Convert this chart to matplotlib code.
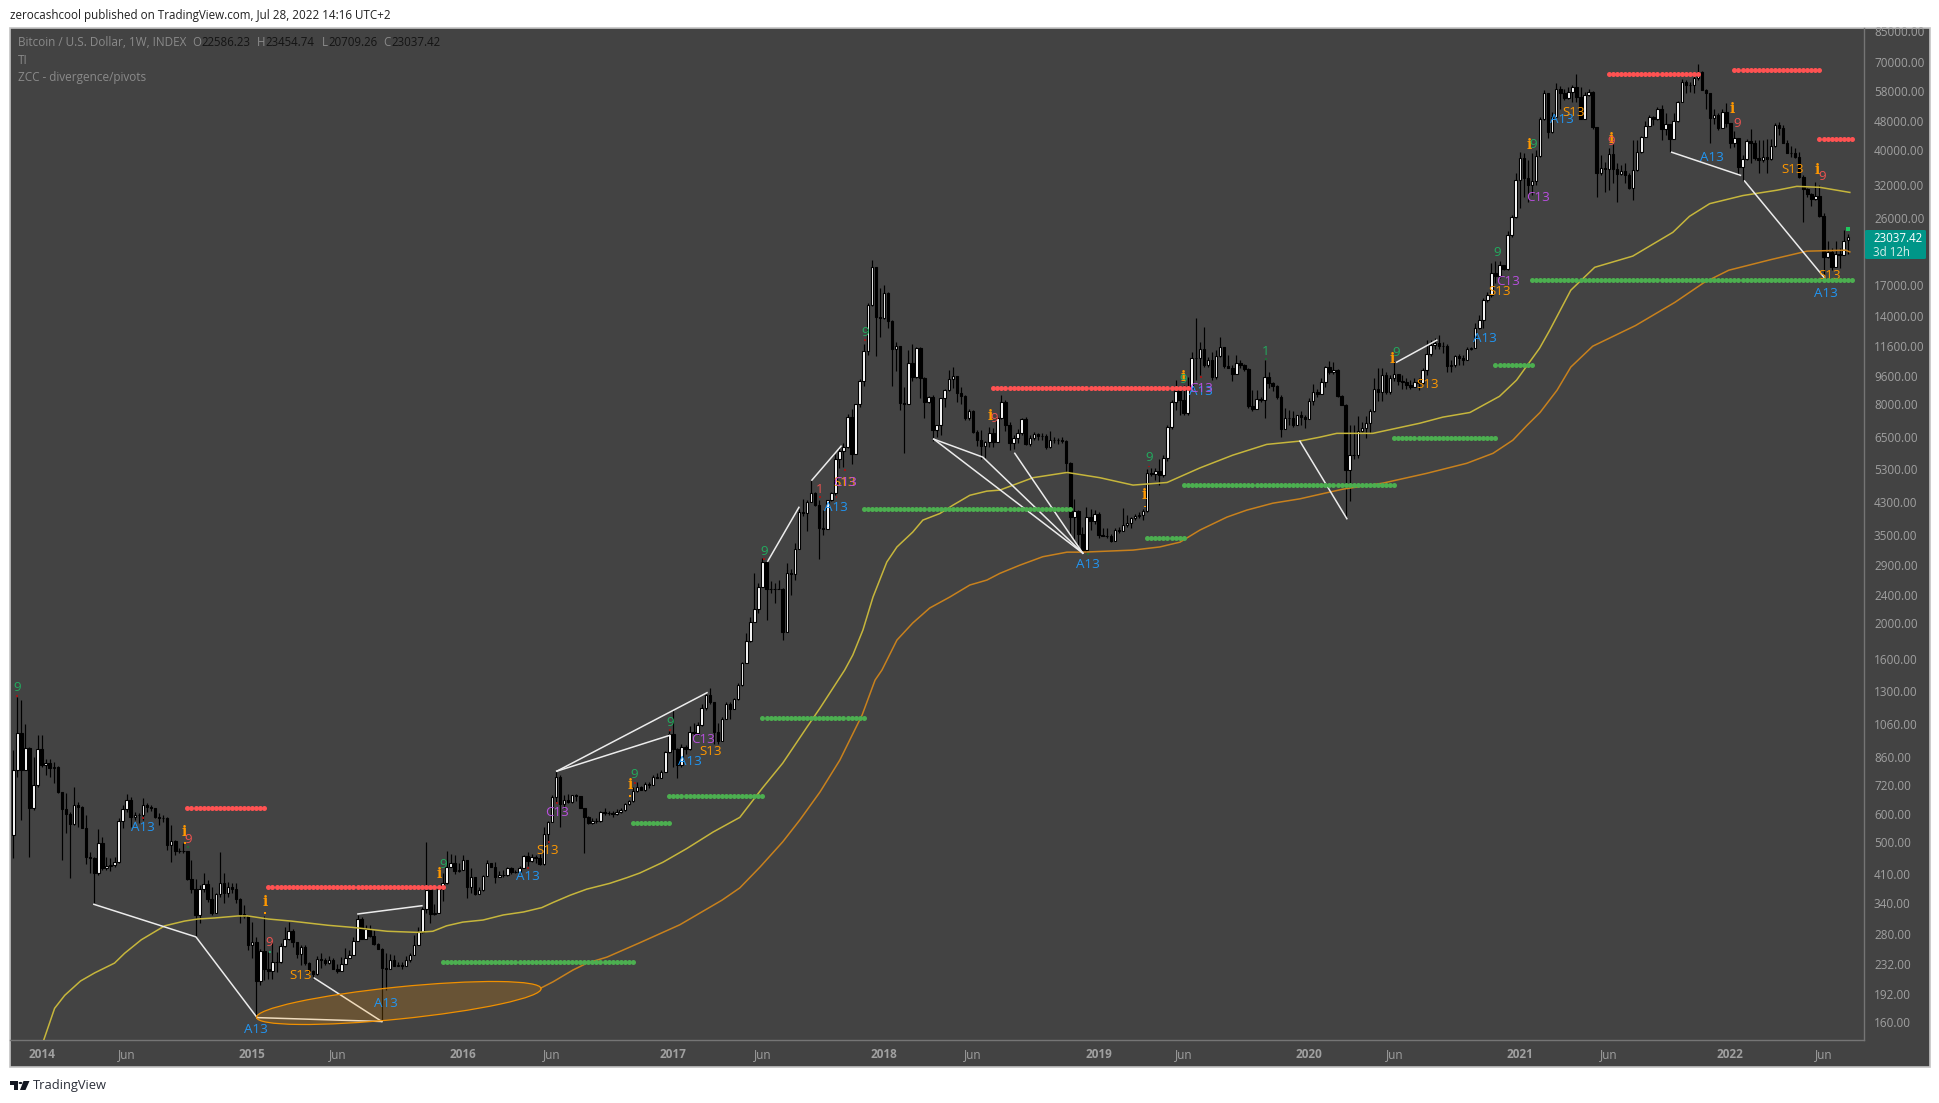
import matplotlib
matplotlib.use('Agg')
import matplotlib.pyplot as plt
from matplotlib.patches import Ellipse, Polygon, Rectangle, FancyBboxPatch, Circle
from matplotlib.transforms import IdentityTransform
import numpy as np

plt.rcParams['font.family'] = ['Open Sans', 'DejaVu Sans']

# weekly candles (open = previous close)
first_open = 525
closes = [
    791,997,791,910,623,720,902,816,829,803,
    805,690,619,598,561,632,627,549,457,453,
    413,497,426,432,433,443,571,619,653,589,
    596,594,632,625,621,586,583,585,493,505,
    474,473,474,396,373,316,373,385,350,320,
    360,388,364,377,373,350,318,314,261,266,
    208,252,225,222,234,234,260,272,285,266,
    247,258,233,222,218,239,238,233,238,225,
    221,232,241,246,268,308,272,290,277,263,
    255,226,225,238,229,230,229,238,246,262,
    283,328,370,317,320,372,388,428,438,418,
    421,447,378,401,360,369,405,438,428,401,
    408,407,424,416,416,424,460,446,455,454,
    436,527,570,665,758,636,655,644,673,672,
    620,589,565,574,573,605,603,603,598,608,
    614,637,650,694,708,699,723,720,758,752,
    782,886,992,905,817,915,905,1007,998,1052,
    1168,1270,1215,1007,953,1095,1199,1164,1237,1353,
    1552,1784,2013,2190,2516,2948,2490,2480,2490,2490,
    1900,2750,2738,3200,4040,4030,4310,4570,4220,3660,
    3645,4355,4570,5660,5950,6100,7380,5830,8000,9260,
    11190,15000,19040,13940,13790,16180,13570,11360,11560,8060,
    8020,10370,9520,11430,9460,8110,8390,6810,7000,8310,
    8760,9370,9550,8620,8450,7320,7650,6730,6400,6140,
    6310,6660,6310,7360,8140,7010,6280,6470,6660,7280,
    6220,6470,6620,6540,6530,6100,6380,6380,6370,6330,
    5530,3910,4080,3520,3180,3920,3820,4010,3500,3480,
    3480,3380,3620,3590,3720,3770,3890,3950,3960,4070,
    5170,5150,5250,5110,5690,6950,8140,8690,8220,7590,
    8900,10750,10710,11360,10240,10570,9490,10900,11490,10220,
    10080,9710,10380,10260,9990,7940,7770,8280,8210,9490,
    9140,8960,8390,6850,7360,7340,7040,7470,7400,7300,
    8170,8650,8530,9240,10130,9840,9920,8430,7960,5290,
    5800,5790,6740,6870,7100,7690,8830,8670,9660,8670,
    9440,9700,9300,9240,9050,8950,9240,9160,9920,11000,
    11640,11830,11600,11600,10200,10240,10840,10710,10570,11340,
    11430,12950,13640,15490,15950,18330,17990,19330,18900,23380,
    26130,33030,37970,33460,32070,32950,38620,48610,57290,44950,
    49470,58760,57290,55510,57900,59760,56100,48810,56690,57900,
    46200,34530,35650,35570,39020,35420,34390,35040,34170,31400,
    35350,39610,43550,46690,49220,48610,51780,45710,47090,43000,
    48090,54350,61430,60400,60400,63000,65440,58510,57290,49120,
    49950,46100,50800,47380,41750,43080,36020,37730,42370,41930,
    38130,37570,38210,37730,41130,46790,46100,41930,39360,39190,
    38370,33810,31190,30230,29290,29920,26420,20370,20930,19130,
    20760,20630,22450,23037.42,
]
highs = [
    898,1258,1235,1059,917,861,988,988,847,847,
    834,812,690,683,608,712,647,629,595,472,
    457,543,519,457,452,457,582,634,678,668,
    608,604,661,640,632,623,601,595,588,558,
    509,482,497,475,448,396,382,411,394,378,
    362,472,411,390,386,386,351,336,316,303,
    275,255,314,250,267,250,264,292,302,290,
    267,261,261,235,223,243,248,241,243,240,
    231,242,257,253,274,316,311,296,296,288,
    264,257,248,247,245,235,235,243,248,278,
    293,333,503,381,339,374,411,473,464,461,
    438,461,448,424,401,378,407,448,438,442,
    418,420,428,428,421,432,461,470,464,461,
    466,552,573,673,786,766,676,679,676,679,
    662,622,591,583,584,610,622,610,610,617,
    620,640,654,709,732,716,735,735,765,775,
    790,892,1010,1157,911,935,925,1042,1062,1073,
    1204,1283,1325,1215,1062,1104,1215,1215,1245,1370,
    1568,1881,2080,2750,2580,3020,2990,2610,2580,2630,
    2500,2940,2830,3320,4130,4400,4360,4970,4600,4360,
    4090,4370,4590,5830,6120,6270,7510,7780,8030,9420,
    11700,15180,19910,19125,16700,17000,16250,13630,11850,11560,
    8950,11290,11710,11500,11500,9520,8450,8510,7030,8340,
    8800,9960,10120,9570,8930,8490,7770,7710,6810,6810,
    6360,6950,6870,7480,8490,8220,7170,6590,6850,7320,
    7400,6590,6730,6690,6660,6620,6770,6500,6470,6500,
    6380,5540,4400,4090,3680,4170,4130,4090,4050,3650,
    3650,3520,3670,3680,4150,3970,3930,4010,4050,4130,
    5300,5340,5340,5650,5800,7010,8220,9340,8960,9040,
    9530,11170,13790,11880,13050,10800,11170,11280,12290,11520,
    10920,10260,10920,10590,10300,10040,8760,8790,8390,10590,
    9830,9240,9040,8490,7800,7720,7650,7470,7650,7490,
    8310,9130,8830,9440,10200,10510,10430,9990,8480,8010,
    7020,7020,7410,7160,7440,7760,9440,10090,10090,9840,
    9660,10510,9700,9660,9440,9350,9440,9440,10090,12020,
    12020,12170,12420,11880,11760,10620,10950,11000,10950,11520,
    11520,13360,14060,15650,16320,19540,19810,19810,19330,23980,
    26520,34530,39610,39190,37570,39360,40040,49470,58350,57560,
    51020,61310,59990,59020,59760,60400,64750,59760,57900,59020,
    58150,46200,38890,37180,40460,41450,36780,36380,36780,34530,
    42640,42640,43740,48140,49950,49580,52630,53240,50470,47210,
    50470,54690,62720,62330,61700,65710,68970,66130,59020,57290,
    52010,50470,52010,53820,47380,45250,43000,38890,43000,45670,
    42640,42640,42640,42890,43000,47380,47910,46870,42640,41050,
    40460,39610,34170,31400,30430,32750,32070,26900,22450,21560,
    22450,21560,24190,23454.74,
]
lows = [
    452,758,576,800,455,614,712,808,766,758,
    727,683,448,530,399,558,553,548,435,413,
    340,407,420,420,418,429,440,548,608,553,
    576,564,576,608,610,583,558,570,477,443,
    462,469,467,394,362,274,300,366,344,316,
    319,355,340,355,362,340,300,310,253,241,
    166,203,209,211,211,220,233,258,270,258,
    241,230,230,218,211,216,226,230,231,226,
    219,224,231,240,245,268,271,271,275,261,
    254,161,196,228,230,230,224,231,235,245,
    261,282,319,300,316,320,346,385,428,410,
    416,421,351,363,359,362,368,404,427,387,
    403,403,405,410,411,417,424,431,442,440,
    433,433,498,570,640,551,622,640,640,652,
    620,468,561,561,565,568,594,596,589,596,
    602,610,633,646,687,696,694,705,718,750,
    762,780,880,808,751,808,877,895,986,986,
    1042,1157,1204,935,935,948,1090,1095,1162,1230,
    1345,1557,1773,2013,2130,2516,2050,2420,2280,2480,
    1800,1900,2400,2630,3200,3935,3600,4310,4210,3010,
    3500,3630,4350,4500,5340,5370,6080,5480,5830,7850,
    9000,10950,14900,10850,12240,13700,12960,9000,9900,7710,
    5880,8020,9260,9460,8310,7330,8050,6340,6520,6590,
    7850,8700,8860,8110,8020,7230,7260,6660,6140,5660,
    5700,6100,6100,6310,7300,6770,5990,6050,6250,6590,
    6180,6150,6380,6380,6380,6030,6080,6250,6220,6250,
    5200,3470,3380,3290,3150,3150,3610,3750,3440,3470,
    3440,3350,3380,3550,3590,3680,3670,3840,3890,3840,
    4050,5080,4950,4800,5060,5590,6850,7710,7470,7470,
    7470,8860,9340,9640,10150,10150,9340,9370,10800,10040,
    10040,9280,9700,10080,9900,7800,7670,7760,8140,7320,
    8900,8690,8300,6520,6850,7010,6950,7020,7020,6870,
    7290,7960,8390,8560,8950,9710,9700,8360,7960,3900,
    4350,5660,5680,6710,6450,6680,7610,8170,8170,8560,
    8560,9300,9050,8830,8830,8830,8950,8770,9130,9660,
    10840,11340,11340,11050,9840,9840,10150,10250,10250,10570,
    11260,11400,12900,12950,15310,15800,17220,17810,18710,18710,
    23120,26000,27680,29790,28810,30100,32070,38370,48300,43080,
    44640,49220,52010,54990,55200,54350,54350,48610,48610,56290,
    45710,29660,34170,30750,31070,32410,28810,34170,32410,31190,
    29170,35130,39360,43550,46770,46880,48300,42640,43940,39610,
    42850,47910,54350,57290,57900,57290,62330,58350,52010,41750,
    47210,45410,46100,46400,40460,40810,34170,32950,37570,36780,
    37570,34530,37180,34530,37570,40880,43940,41750,39190,38370,
    37970,33460,25400,29790,28070,29170,26270,17920,20170,18760,
    19130,18930,20540,20709.26,
]

# moving averages (week index, price)
yellow_i = [7.5,10.2,12.7,16.6,20.1,25,27.5,31.6,37.4,42.3,45.6,49.7,55.5,57.9,62.9,68.6,77.7,83.9,92.3,99.7,
            103.6,107,111,116,121,126,130.5,133.3,137.5,141.6,147.3,151.5,154.7,160.4,166.3,172.8,179.4,185,190,196,
            199.2,205.3,207.3,209.8,212.3,215.7,218.2,222.1,224.6,228.8,232,236.2,240.4,243.6,251.8,260.2,268.3,276.5,284.9,293,
            301.1,309.5,317.6,322.6,326.8,335.7,347.3,353,359.7,367,371.2,376.9,379.4,384.6,390.5,399.9,409.8,413.9,418.9,427.1,
            435.5,440.4,446.1,453.5]
yellow_p = [143,175,190,208,219,233,248,270,295,304,308,310,314,314,308,304,296,292,285,283,
            285,295,302,306,316,322,331,342,358,372,386,400,412,441,481,534,586,706,826,1038,
            1170,1489,1637,1918,2365,2950,3245,3565,3846,4010,4225,4500,4620,4650,5030,5200,5030,4800,4880,5350,
            5800,6210,6340,6500,6660,6660,7100,7380,7600,8420,9325,11420,12795,16480,19050,20450,23770,26300,28500,30000,
            31030,31800,31600,30600]
orange_i = [130.3,133.3,138.2,141.7,146.6,154.7,164.6,175,179.4,184.4,190,194.2,199.2,204.1,209.6,212.8,214.5,218.2,222.1,226.3,
            231.3,236.2,240.4,243.6,248.5,254.2,260.2,264.1,276.5,283.1,288.1,293,299.7,304.6,311,317.7,322.7,328.4,338.2,349,
            358.9,365.4,370.3,373.8,377,381.2,384.6,390,400.6,410.3,417.5,423.6,434,442.9,452.5,453.5]
orange_p = [199,207,223,233,242,265,297,347,375,428,502,576,688,842,1120,1397,1489,1800,2005,2205,
            2365,2550,2631,2745,2890,3050,3140,3140,3181,3245,3345,3610,3920,4097,4280,4400,4530,4680,4860,5170,
            5510,5870,6380,7010,7600,8750,10130,11560,13180,15260,17300,18700,20000,21100,21230,21000]

# hand drawn white lines
white_lines = [
    ([19.9,45.1,60.2],[338,275,165]),
    ([60.2,91],[165,161]),
    ([74.3,91],[212,161]),
    ([85.1,100.9],[318,335]),
    ([134.2,171.3],[785,1290]),
    ([134.2,162.1],[785,985]),
    ([186.3,194],[2965,4170]),
    ([197.2,204.4],[4953,6140]),
    ([227.3,264.1],[6420,3120]),
    ([227.3,239.4,264.1],[6420,5730,3120]),
    ([247.3,264.1],[5870,3120]),
    ([317.7,329.3],[6340,3880]),
    ([341.6,351.5],[10450,12010]),
    ([409.5,426.5],[39460,34100]),
    ([427.5,447.3],[32900,17780]),
]

# pivot levels: start week, end week, price
red_start = [43,63,242,394,425,446]
red_end = [62,106,290,416,446,454]
red_price = [621,377,8860,64630,66300,42850]
green_start = [106,153,162,185,210,280,289,341,366,375]
green_end = [153,162,185,210,261,289,341,366,375,454]
green_price = [235,566,671,1098,4120,3440,4800,6460,10250,17556]

# signal labels
label_text = ['9','A13','i','9','i','9','S13','A13','A13','i','9','A13','S13','C13','i','9','9','A13','C13','S13',
              '9','1','S13','C13','A13','9','i','9','A13','i','9','i','9','A13','C13','1','i','9','S13','A13',
              'S13','C13','9','C13','i','9','A13','S13','i','9','i','9','A13','S13','i','9','S13','A13']
label_i = [1,32,42.1,43.1,62.1,63.1,71,59.9,92,105.1,106.1,127.1,132,134.3,152.3,153.3,162.1,167.1,170.3,172.1,
           185.4,199.2,205.4,205.4,203.1,210.3,241.2,242.2,265.4,279.2,280.4,289,289,293.3,293.3,309.3,340.4,341.4,349.3,363.4,
           367.1,369,366.5,376.5,374.3,375.3,382.4,385.4,394.5,394.5,424.4,425.6,419.4,439.4,445.4,446.6,448.6,447.6]
label_price = [1337,548,534,510,342,265,216,152.6,180,409,436,402,474,606,719,771,1071,837,962,890,
               3160,4680,4890,4890,4170,12630,7420,7330,2912,4505,5729,9505,9385,8700,8860,11200,10650,11130,9090,12160,
               16380,17440,20960,29700,41250,41510,48650,50700,42850,42320,51800,47400,38200,35430,35215,33950,18120,16150]
label_color = ['g','b','o','r','o','r','o','b','b','o','g','b','o','p','o','g','g','b','p','o',
               'g','r','o','p','b','g','o','r','b','o','g','o','g','b','p','g','o','g','o','b',
               'o','p','g','p','o','g','b','o','o','r','o','r','b','o','o','r','o','b']
palette = {'g': '#22ab5e', 'b': '#2196f3', 'o': '#ff9800', 'r': '#ef5350', 'p': '#ba4fe0'}

# tiny marks next to the labels
tick_i = [1,32,42.4,43.1,62.1,63.4,162.1,153.5,152.3,134.3,132.3,127.1,185.4,199.2,203.3,205.4,210.3,265.4,280.4,279.4,293.3,309.3]
tick_p = [1262,583,498,486,320,250,1018,727,671,642,502,425,3005,4450,4450,5277,12010,3100,5400,4190,9505,10650]
tick_c = ['#a01818','#a01818','#ff9800','#1f6b35','#ff9800','#2a9d6a','#a01818','#a01818','#ff9800','#a01818','#a01818',
          '#a01818','#a01818','#a01818','#a01818','#a01818','#a01818','#1f6b35','#a01818','#ff9800','#a01818','#1f6b35']

# axis labels
ytick_vals = [85000,70000,58000,48000,40000,32000,26000,17000,14000,11600,9600,8000,6500,5300,4300,3500,2900,2400,
              2000,1600,1300,1060,860,720,600,500,410,340,280,232,192,160]
xtick_pos = [7,28,59,80,111,133,163,185,215,237,268,289,320,341,372,394,424,447]
xtick_labels = ['2014','Jun','2015','Jun','2016','Jun','2017','Jun','2018','Jun','2019','Jun','2020','Jun','2021','Jun','2022','Jun']

bg = '#434343'
W, H = 1940, 1103

fig = plt.figure(figsize=(W/100, H/100), dpi=100, facecolor='white')

def fx(x):
    return x/W

def fy(y):
    return 1 - y/H

# chart panel
fig.add_artist(Rectangle((fx(10), fy(1066.5)), 1920/W, 1039/H, transform=fig.transFigure,
                         facecolor=bg, edgecolor='#c4c4c4', lw=1.2, zorder=-1))

ax = fig.add_axes([fx(10.5), fy(1040), 1853.5/W, 1012/H])
ax.patch.set_alpha(0)
ax.set_yscale('log')
ax.set_xlim(-0.69, 457)
ax.set_ylim(143.2, 86630)

idx = np.arange(len(closes))
closes_a = np.array(closes, dtype=float)
opens_a = np.r_[first_open, closes_a[:-1]]
opens_a[-1] = 22586.23
body_lo = np.minimum(opens_a, closes_a)
body_hi = np.maximum(opens_a, closes_a)
up = closes_a >= opens_a

# candles
ax.vlines(idx, lows, highs, color='black', lw=0.85, zorder=3)
ax.bar(idx[up], (body_hi - body_lo)[up], bottom=body_lo[up], width=0.62,
       facecolor='white', edgecolor='black', lw=0.8, zorder=3.2)
ax.bar(idx[~up], (body_hi - body_lo)[~up], bottom=body_lo[~up], width=0.62,
       facecolor='black', edgecolor='black', lw=0.8, zorder=3.2)

# averages
ax.plot(yellow_i, yellow_p, color='#c6b63c', lw=1.1, zorder=4)
ax.plot(orange_i, orange_p, color='#c8811d', lw=1.1, zorder=4)

for xs, ys in white_lines:
    ax.plot(xs, ys, color='#ececec', lw=1.1, zorder=5)

# ellipse is a drawing tool on the chart, so pixel sized around its data centre
ell_c = ax.transData.transform((95.2, 181))
ax.add_patch(Ellipse(ell_c, 286, 32, angle=5.8, transform=IdentityTransform(),
                     facecolor=(1, 0.596, 0, 0.2), edgecolor='#f09000', lw=0.9, zorder=5.5))

ax.scatter(tick_i, tick_p, s=1.6, c=tick_c, marker='s', linewidths=0, zorder=5.8)

for t, xi, p, c in zip(label_text, label_i, label_price, label_color):
    if t == 'i':
        ax.text(xi, p, t, color=palette[c], fontsize=10, fontweight='bold', family='DejaVu Serif',
                ha='center', va='center', zorder=6)
    else:
        ax.text(xi, p, t, color=palette[c], fontsize=9.6, ha='center', va='center', zorder=6)

for a, b, p in zip(red_start, red_end, red_price):
    w = np.arange(a, b + 1)
    ax.plot(w, np.full(len(w), p), 'o', color='#ff5252', ms=3.6, mew=0, zorder=7)
for a, b, p in zip(green_start, green_end, green_price):
    w = np.arange(a, b + 1)
    ax.plot(w, np.full(len(w), p), 'o', color='#4caf50', ms=3.6, mew=0, zorder=7)

ax.plot([453], [24300], 's', color='#1fc85f', ms=2.6, mew=0, zorder=7)

# axes
ax.yaxis.tick_right()
ax.set_yticks(ytick_vals)
ax.set_yticklabels([f'{v:.2f}' for v in ytick_vals])
ax.minorticks_off()
ax.tick_params(axis='y', length=0, pad=7.2, labelsize=8.5, labelcolor='#a0a0a0')
ax.set_xticks(xtick_pos)
ax.set_xticklabels(xtick_labels)
ax.tick_params(axis='x', length=0, pad=5.5, labelsize=8.5, labelcolor='#a0a0a0')
for lab in ax.get_xticklabels():
    if lab.get_text() != 'Jun':
        lab.set_fontweight('bold')
for s in ['left', 'top']:
    ax.spines[s].set_visible(False)
for s in ['right', 'bottom']:
    ax.spines[s].set_color('#757575')
    ax.spines[s].set_linewidth(1.0)

# last price tag
fig.add_artist(FancyBboxPatch((fx(1865), fy(259)), 61/W, 29/H, transform=fig.transFigure,
                              boxstyle='round,pad=0,rounding_size=0.001', facecolor='#009688', edgecolor='none'))
fig.text(fx(1873.5), fy(239), '23037.42', color='white', fontsize=8.3, va='center')
fig.text(fx(1873.5), fy(252), '3d 12h', color='#d8eeea', fontsize=8.3, va='center')

# header and legend
fig.text(fx(10), fy(16), 'zerocashcool published on TradingView.com, Jul 28, 2022 14:16 UTC+2',
         color='#202020', fontsize=8.4, va='center')
leg_gray = '#8a8a8a'
fig.text(fx(18), fy(42.5), 'Bitcoin / U.S. Dollar, 1W, INDEX', color=leg_gray, fontsize=8.5, va='center')
for x0, s, col in [(192, 'O', leg_gray), (201.5, '22586.23', '#141414'),
                   (257, 'H', leg_gray), (265.5, '23454.74', '#141414'),
                   (322, 'L', leg_gray), (328.5, '20709.26', '#141414'),
                   (383, 'C', leg_gray), (391.5, '23037.42', '#141414')]:
    fig.text(fx(x0), fy(42.5), s, color=col, fontsize=8.3, va='center')
fig.text(fx(18), fy(60), 'TI', color=leg_gray, fontsize=8.5, va='center')
fig.text(fx(18), fy(77), 'ZCC - divergence/pivots', color=leg_gray, fontsize=8.5, va='center')

# TradingView mark
logo = '#131722'
fig.add_artist(Polygon([(fx(10), fy(1081)), (fx(18), fy(1081)), (fx(18), fy(1090)), (fx(14), fy(1090)),
                        (fx(14), fy(1085)), (fx(10), fy(1085))], transform=fig.transFigure, facecolor=logo, edgecolor='none'))
fig.add_artist(Polygon([(fx(23.5), fy(1081)), (fx(29.5), fy(1081)), (fx(25.5), fy(1090)), (fx(20), fy(1090))],
                       transform=fig.transFigure, facecolor=logo, edgecolor='none'))
fig.add_artist(Circle((fx(20.5), fy(1083)), 1.9/W, transform=fig.transFigure, facecolor=logo, edgecolor='none'))
fig.text(fx(33), fy(1085.5), 'TradingView', color='#2a2e39', fontsize=9.3, va='center')

fig.savefig('out.png', dpi=100, facecolor='white')
